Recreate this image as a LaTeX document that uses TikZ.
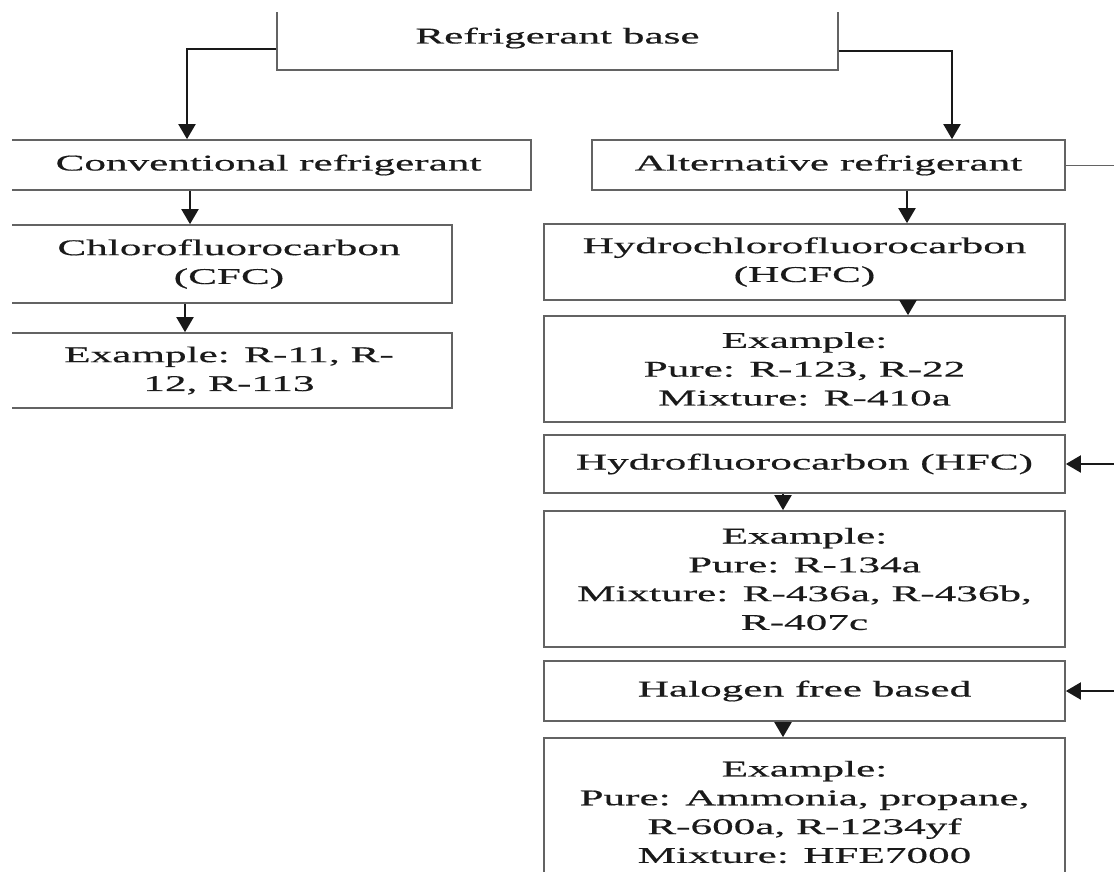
\documentclass[tikz,border=0pt]{standalone}
\usepackage{fontspec}
\setmainfont{Liberation Serif}[FakeStretch=1.92,FakeBold=0.5]
\usetikzlibrary{arrows.meta}
\definecolor{Cboxgray}{HTML}{636363}
\definecolor{Ctext}{HTML}{1A1A1A}

\begin{document}
\begin{tikzpicture}[x=1pt,y=-1pt,
		box/.style={draw=Cboxgray,line width=1.7pt,align=center,inner sep=0pt,
			text=Ctext,font=\fontsize{22.5}{28.8}\selectfont},
		arr/.style={-{Triangle[width=17pt,length=15pt]},line width=2pt,black!90},
		feed/.style={line width=0.8pt,Cboxgray}]
		\useasboundingbox (0,0) rectangle (1114,871);
		\clip (12,12) rectangle (1114,871);
		% top
		\node[box,minimum width=561pt,minimum height=64pt] (base) at (557.5,38) {Refrigerant base};
		% left column
		\node[box,minimum width=525pt,minimum height=50pt] (conv) at (268.5,165) {Conventional refrigerant};
		\node[box,minimum width=446pt,minimum height=78pt] (cfc) at (229,264) {Chlorofluorocarbon\\(CFC)};
		\node[box,minimum width=446pt,minimum height=75pt] (cfcex) at (229,370.5) {Example: R-11, R-\\12, R-113};
		% right column
		\node[box,minimum width=473pt,minimum height=50pt] (alt) at (828.5,165) {Alternative refrigerant};
		\node[box,minimum width=521pt,minimum height=76pt] (hcfc) at (804.5,262) {Hydrochlorofluorocarbon\\(HCFC)};
		\node[box,minimum width=521pt,minimum height=106pt] (hcfcex) at (804.5,369) {Example:\\Pure: R-123, R-22\\Mixture: R-410a};
		\node[box,minimum width=521pt,minimum height=58pt] (hfc) at (804.5,464) {Hydrofluorocarbon (HFC)};
		\node[box,minimum width=521pt,minimum height=136pt] (hfcex) at (804.5,579) {Example:\\Pure: R-134a\\Mixture: R-436a, R-436b,\\R-407c};
		\node[box,minimum width=521pt,minimum height=60pt] (halo) at (804.5,691) {Halogen free based};
		\node[box,minimum width=521pt,minimum height=148pt] (haloex) at (804.5,812) {Example:\\Pure: Ammonia, propane,\\R-600a, R-1234yf\\Mixture: HFE7000};
		% free ends on the right
		\coordinate (outalt) at (alt.east -| 1120,0);
		\coordinate (inhfc) at (hfc.east -| 1120,0);
		\coordinate (inhalo) at (halo.east -| 1120,0);
		% connectors
		\draw[arr] (base.west |- 0,49) -| (conv.north -| 187,0);
		\draw[arr] (base.east |- 0,51) -| (alt.north -| 952,0);
		\draw[arr] (conv.south -| 190,0) -- (cfc.north -| 190,0);
		\draw[arr] (cfc.south -| 185,0) -- (cfcex.north -| 185,0);
		\draw[arr] (alt.south -| 907,0) -- (hcfc.north -| 907,0);
		\draw[arr] (hcfc.south -| 908,0) -- (hcfcex.north -| 908,0);
		\draw[arr] (hfc.south -| 783,0) -- (hfcex.north -| 783,0);
		\draw[arr] (halo.south -| 783,0) -- (haloex.north -| 783,0);
		\draw[feed] (alt.east) -- (outalt);
		\draw[arr] (inhfc) -- (hfc.east);
		\draw[arr] (inhalo) -- (halo.east);
	\end{tikzpicture}
\end{document}
